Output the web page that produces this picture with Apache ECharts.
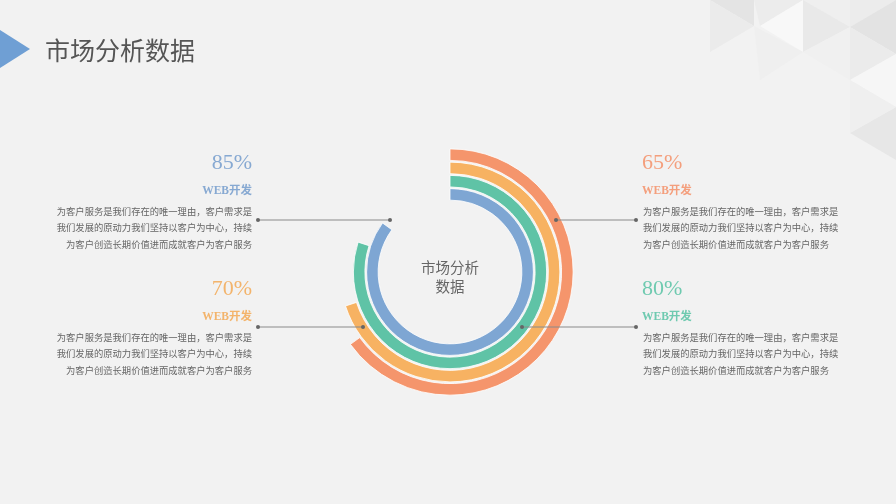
<!DOCTYPE html>
<html>
<head>
<meta charset="utf-8">
<script src="https://cdn.jsdelivr.net/npm/echarts@6/dist/echarts.min.js"></script>
<style>
html,body{margin:0;padding:0;background:#f2f2f2;}
#main{width:896px;height:504px;}
</style>
</head>
<body>
<div id="main"></div>
<script>
// ---- data ----
const categories = ['85%', '80%', '70%', '65%'];   // inner -> outer ring
const values = [85, 80, 70, 65];
const titleText = '市场分析数据';
const centerText = '市场分析\n数据';
const blockPercents = ['85%', '70%', '65%', '80%']; // TL, BL, TR, BR
const blockTitles = ['WEB开发', 'WEB开发', 'WEB开发', 'WEB开发'];
const descText = '为客户服务是我们存在的唯一理由，客户需求是\n我们发展的原动力我们坚持以客户为中心，持续\n为客户创造长期价值进而成就客户为客户服务';

// ---- styles ----
const ringColors = ['#7ea6d3', '#5fc3a6', '#f7b262', '#f5956c'];
const blockColors = ['#87a9d2', '#f3b46c', '#f49f7d', '#6fcab0'];

const chart = echarts.init(document.getElementById('main'), null, {renderer: 'canvas'});

const graphics = [];
// background triangles (decoration, top-right)
const tri = (pts, c) => graphics.push({type:'polygon', z:0, shape:{points:pts}, style:{fill:c}, silent:true});
tri([[710,0],[754,0],[754,26]], '#e4e4e4');
tri([[710,0],[754,26],[710,52]], '#ebebeb');
tri([[754,0],[803,0],[760,26]], '#ececec');
tri([[760,26],[803,0],[803,52]], '#f8f8f8');
tri([[803,0],[850,0],[850,27]], '#efefef');
tri([[803,0],[850,27],[803,52]], '#e9e9e9');
tri([[850,0],[896,0],[850,27]], '#ececec');
tri([[850,27],[896,0],[896,54]], '#e3e3e3');
tri([[850,27],[896,54],[850,80]], '#ebebeb');
tri([[803,52],[850,27],[850,80]], '#f0f0f0');
tri([[754,26],[803,52],[760,80]], '#efefef');
tri([[850,80],[896,54],[896,107]], '#f6f6f6');
tri([[850,133],[896,107],[896,160]], '#e7e7e7');
tri([[850,80],[896,107],[850,133]], '#efefef');

// title
graphics.push({type:'polygon', z:10, shape:{points:[[0,30],[30,49],[0,68]]}, style:{fill:'#6f9fd4'}});
graphics.push({type:'text', z:10, x:45, y:50, style:{text:titleText, fill:'#555', font:'25px "Noto Sans CJK SC"', textVerticalAlign:'middle', textAlign:'left'}});

// center text
graphics.push({type:'text', z:10, x:450, y:277, style:{text:centerText, fill:'#666', font:'14.5px "Noto Sans CJK SC"', textAlign:'center', textVerticalAlign:'middle', lineHeight:19}});

// text blocks
const blocks = [
  {x:252, y:0, align:'right'},
  {x:252, y:126, align:'right'},
  {x:642, y:0, align:'left'},
  {x:642, y:126, align:'left'}
];
blocks.forEach((b, i) => {
  graphics.push({type:'text', z:10, x:b.x, y:163 + b.y, style:{text:blockPercents[i], fill:blockColors[i], font:'22px "Liberation Serif"', textAlign:b.align, textVerticalAlign:'middle'}});
  graphics.push({type:'text', z:10, x:b.x, y:191 + b.y, style:{text:blockTitles[i], fill:blockColors[i], font:'bold 11.5px "Liberation Serif", "Noto Sans CJK SC"', textAlign:b.align, textVerticalAlign:'middle'}});
  graphics.push({type:'text', z:10, x:b.x + (b.align === 'right' ? 0 : 1), y:203 + b.y, style:{text:descText, fill:'#666', font:'9.3px "Noto Sans CJK SC"', textAlign:b.align, textVerticalAlign:'top', lineHeight:16.5}});
});

// connector lines
const conn = [[258,390,220],[556,636,220],[258,363,327],[522,636,327]];
conn.forEach(c => {
  graphics.push({type:'line', z:20, shape:{x1:c[0], y1:c[2], x2:c[1], y2:c[2]}, style:{stroke:'#8a8a8a', lineWidth:1}});
  graphics.push({type:'circle', z:21, shape:{cx:c[0], cy:c[2], r:2}, style:{fill:'#666'}});
  graphics.push({type:'circle', z:21, shape:{cx:c[1], cy:c[2], r:2}, style:{fill:'#666'}});
});

chart.setOption({
  animation: false,
  backgroundColor: '#f2f2f2',
  polar: {center: [450, 272], radius: [71, 124]},
  angleAxis: {type:'value', min:0, max:100, startAngle:90, clockwise:true, show:false},
  radiusAxis: {type:'category', data:categories, show:false},
  series: [{
    type: 'bar',
    coordinateSystem: 'polar',
    barWidth: 11.5,
    data: values.map((v, i) => ({value: v, itemStyle: {color: ringColors[i]}})),
    itemStyle: {borderColor: '#ffffff', borderWidth: 0.8},
    z: 5
  }],
  graphic: graphics
});
</script>
</body>
</html>
